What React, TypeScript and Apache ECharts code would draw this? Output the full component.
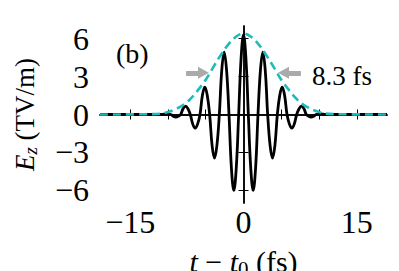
import React, { useEffect, useRef } from "react";
import * as echarts from "echarts";

// Field E_z (TV/m) read at peaks, quarter phases and zero crossings
const fieldT = [-19, -11.6, -10.9, -10.56, -10.24, -9.92, -9.6, -9.28, -8.96, -8.64, -8.32, -8.0, -7.68, -7.36, -7.04, -6.72, -6.4, -6.08, -5.76,
  -5.44, -5.12, -4.8, -4.48, -4.16, -3.84, -3.52, -3.2, -2.88, -2.56, -2.24, -1.92, -1.6, -1.28, -0.96, -0.64, -0.32, 0,
  0.32, 0.64, 0.96, 1.28, 1.6, 1.92, 2.24, 2.56, 2.88, 3.2, 3.52, 3.84, 4.16, 4.48, 4.8, 5.12, 5.44, 5.76, 6.08, 6.4, 6.72, 7.04,
  7.36, 7.68, 8.0, 8.32, 8.64, 8.96, 9.28, 9.6, 9.92, 10.24, 10.56, 10.9, 11.6, 19];
const fieldE = [0, 0, 0, 0.03, 0.05, 0.03, 0, -0.14, -0.2, -0.14, 0, 0.46, 0.66, 0.46, 0, -0.76, -1.08, -0.76, 0,
  1.53, 2.17, 1.53, 0, -2.44, -3.45, -2.44, 0, 3.49, 4.94, 3.49, 0, -4.24, -6.0, -4.24, 0, 4.45, 6.3,
  4.45, 0, -4.24, -6.0, -4.24, 0, 3.49, 4.94, 3.49, 0, -2.44, -3.45, -2.44, 0, 1.53, 2.17, 1.53, 0, -0.76, -1.08, -0.76, 0,
  0.46, 0.66, 0.46, 0, -0.14, -0.2, -0.14, 0, 0.03, 0.05, 0.03, 0, 0, 0];

// Envelope (dashed)
const envT = [-19, -12, -10, -8, -7, -6, -5, -4, -3, -2, -1, 0, 1, 2, 3, 4, 5, 6, 7, 8, 10, 12, 19];
const envE = [0, 0.03, 0.19, 0.75, 1.25, 1.95, 2.75, 3.75, 4.7, 5.55, 6.15, 6.4, 6.15, 5.55, 4.7, 3.75, 2.75, 1.95, 1.25, 0.75, 0.19, 0.03, 0];

const xTicks = [-15, -10, -5, 0, 5, 10, 15];
const xLabels = [-15, 0, 15];
const yTicks = [-6, -3, 0, 3, 6];
const yLabelsA = [-6, 0, 6];
const yLabelsB = [-3, 3];

// FWHM arrows
const arrowY = 3.3;
const arrowLeft = [-7.6, -5.3];
const arrowRight = [7.6, 5.3];
const fwhmLabel = "8.3 fs";
const panelLabel = "(b)";

const FONT = "Liberation Serif";
const fmt = (v: number) => (v < 0 ? "\u2212" + Math.abs(v) : String(v));

export default function App() {
  const ref = useRef<HTMLDivElement>(null);
  useEffect(() => {
    if (!ref.current) return;
    const chart = echarts.init(ref.current, undefined, { renderer: "svg" });
    const axisLine = { show: true, lineStyle: { color: "#000", width: 1.5 } };
    const tick = (vals: number[]) => ({ show: true, inside: true, length: 5, lineStyle: { color: "#000", width: 1 }, customValues: vals });
    const yLab = (vals: number[]) => ({ customValues: vals, formatter: fmt, fontFamily: FONT, fontSize: 32, lineHeight: 30, color: "#000", margin: 11, showMinLabel: true, showMaxLabel: true, hideOverlap: false });
    chart.setOption({
      animation: false,
      backgroundColor: "#fff",
      grid: { left: 100, right: 12, top: 26, bottom: 68, containLabel: false, outerBoundsMode: "none" },
      xAxis: [
        {
          type: "value", min: -19, max: 19, position: "bottom",
          axisLine, axisTick: tick(xTicks), splitLine: { show: false },
          axisLabel: { customValues: xLabels, formatter: fmt, fontFamily: FONT, fontSize: 32, color: "#000", margin: 3, showMinLabel: true, showMaxLabel: true, hideOverlap: false },
          name: "{i|t} \u2212 {i|t}{s|0} (fs)", nameLocation: "middle", nameGap: 41, nameMoveOverlap: false,
          nameTextStyle: {
            fontFamily: FONT, fontSize: 30, color: "#000",
            rich: {
              i: { fontFamily: FONT, fontSize: 30, fontStyle: "italic" },
              s: { fontFamily: FONT, fontSize: 21, verticalAlign: "bottom", padding: [14, 0, 0, 0] },
            },
          },
        },
        {
          type: "value", min: -19, max: 19, position: "top",
          axisLine, axisTick: tick(xTicks), axisLabel: { show: false }, splitLine: { show: false },
        },
      ],
      yAxis: [
        {
          type: "value", min: -7, max: 7, position: "left",
          axisLine, axisTick: tick(yTicks), splitLine: { show: false },
          axisLabel: yLab(yLabelsA),
          name: "{i|E}{s|z} (TV/m)", nameLocation: "middle", nameGap: 60, nameRotate: 90,
          nameTextStyle: {
            fontFamily: FONT, fontSize: 27, color: "#000",
            rich: {
              i: { fontFamily: FONT, fontSize: 27, fontStyle: "italic" },
              s: { fontFamily: FONT, fontSize: 19, fontStyle: "italic", verticalAlign: "bottom", padding: [12, 0, 0, 0] },
            },
          },
        },
        {
          type: "value", min: -7, max: 7, position: "right",
          axisLine, axisTick: tick(yTicks), axisLabel: { show: false }, splitLine: { show: false },
        },
        {
          type: "value", min: -7, max: 7, position: "left", offset: 0,
          axisLine: { show: false }, axisTick: { show: false }, splitLine: { show: false },
          axisLabel: yLab(yLabelsB),
        },
      ],
      series: [
        {
          type: "line", xAxisIndex: 0, yAxisIndex: 0,
          data: fieldT.map((t, i) => [t, fieldE[i]]),
          showSymbol: false, smooth: 0.4, z: 2,
          lineStyle: { color: "#000", width: 2.8 },
        },
        {
          type: "line", xAxisIndex: 0, yAxisIndex: 0,
          data: envT.map((t, i) => [t, envE[i]]),
          showSymbol: false, smooth: 0.4, z: 3,
          lineStyle: { color: "#1cbcbc", width: 2.6, type: [8, 5] },
          markLine: {
            silent: true, animation: false,
            symbol: ["none", "triangle"], symbolSize: [12, 11],
            label: { show: false },
            lineStyle: { color: "#aaaaaa", width: 5, type: "solid" },
            data: [
              [{ coord: [arrowLeft[0], arrowY] }, { coord: [arrowLeft[1], arrowY] }],
              [{ coord: [arrowRight[0], arrowY] }, { coord: [arrowRight[1], arrowY] }],
            ],
          },
        },
      ],
      graphic: [
        { type: "text", left: 116, top: 39, style: { text: panelLabel, fontFamily: FONT, fontSize: 28, fill: "#000" } },
        { type: "text", left: 312, top: 62, style: { text: fwhmLabel, fontFamily: FONT, fontSize: 27, fill: "#000" } },
      ],
    });
    return () => chart.dispose();
  }, []);
  return <div ref={ref} style={{ position: "fixed", left: 0, top: 0, width: 399, height: 271 }} />;
}
